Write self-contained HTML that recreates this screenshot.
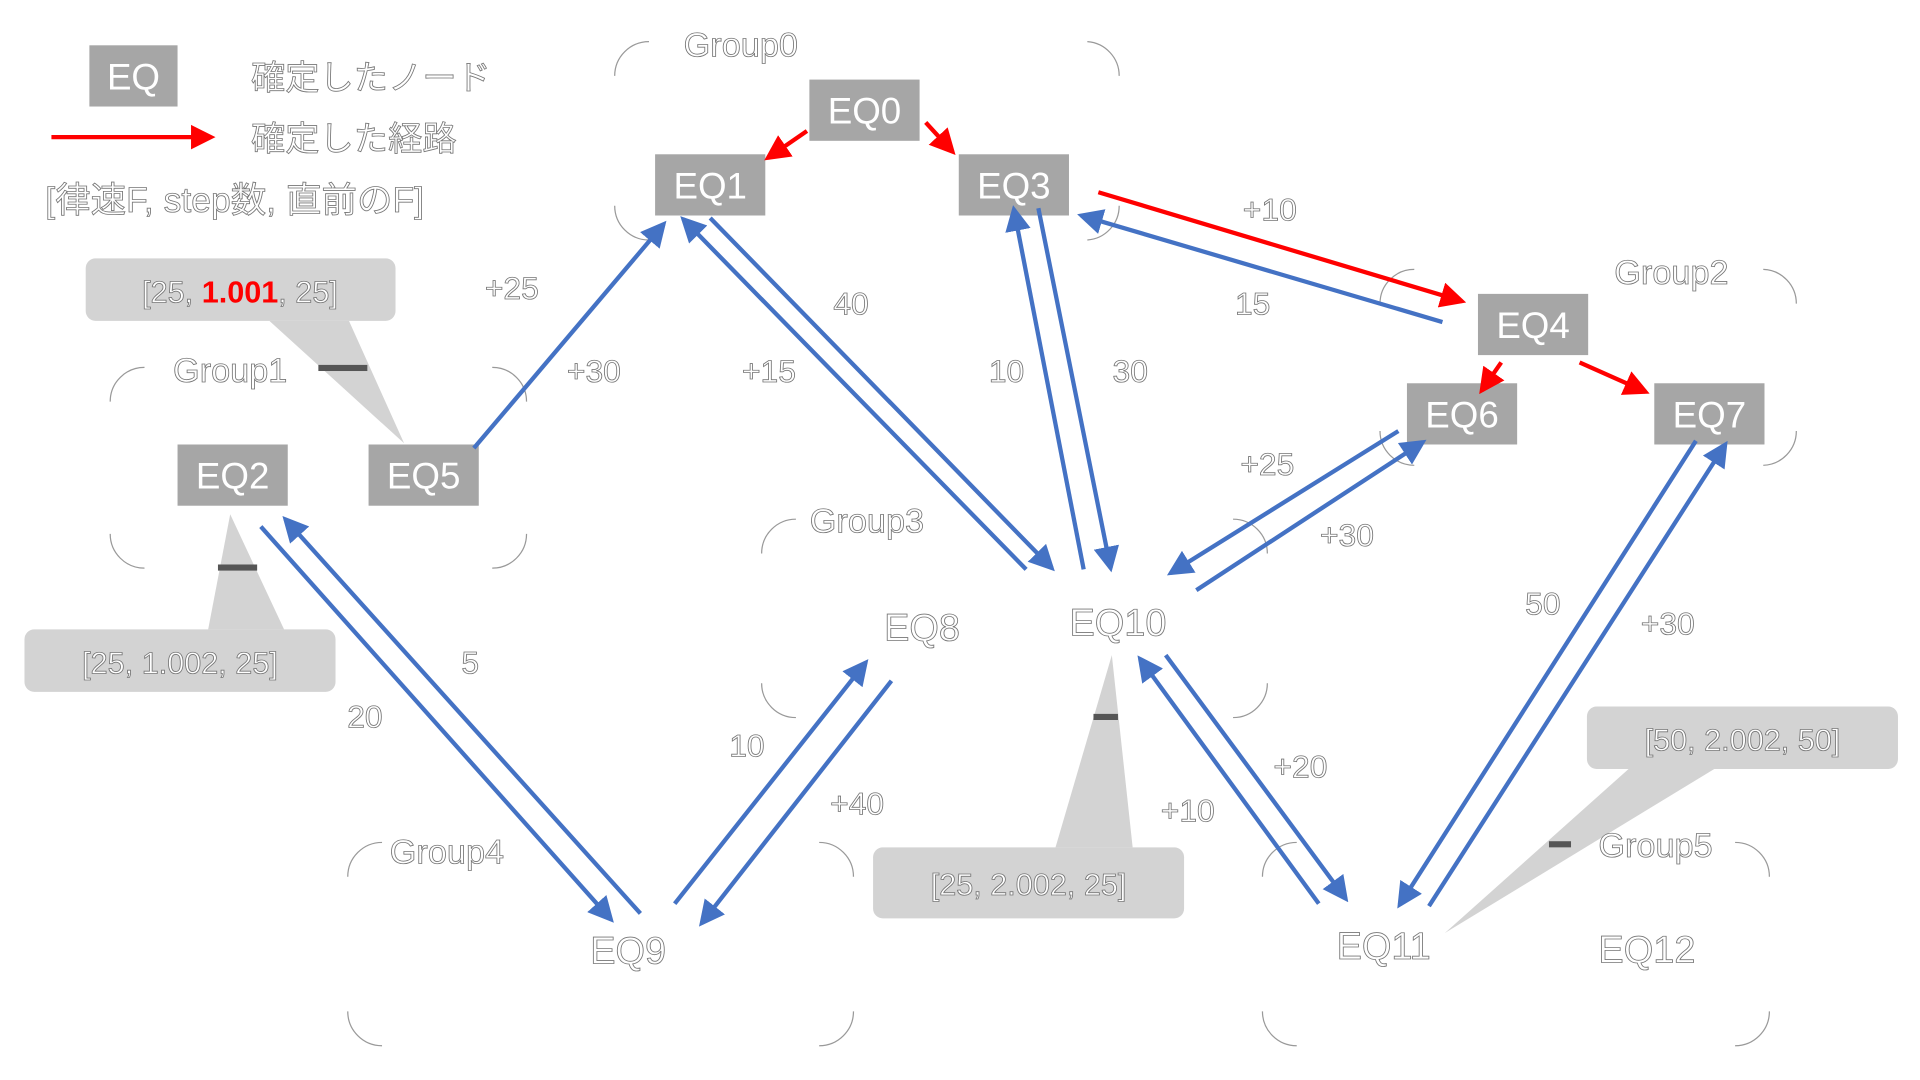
<!DOCTYPE html>
<html><head><meta charset="utf-8"><style>
html,body{margin:0;padding:0;background:#fff;}
svg{display:block;}
text{font-family:"Liberation Sans","Noto Sans CJK JP",sans-serif;}
.o{fill:#fff;stroke:#777;stroke-width:0.7;}
.n{fill:#fff;font-size:30px;}
.lbl{font-size:25px;}
.b{stroke:#4472c4;stroke-width:3.5;fill:none;}
.r{stroke:#ff0000;stroke-width:3.5;fill:none;}
.arc{fill:none;stroke:#999;stroke-width:1;}
</style></head><body>
<svg width="1920" height="1080" viewBox="0 0 1568 882" preserveAspectRatio="none" xmlns="http://www.w3.org/2000/svg">
<defs>
<marker id="mb" markerWidth="6" markerHeight="6" refX="5" refY="3" orient="auto" markerUnits="strokeWidth"><path d="M0,0 L6,3 L0,6 z" fill="#4472c4"/></marker>
<marker id="mr" markerWidth="6" markerHeight="6" refX="5" refY="3" orient="auto" markerUnits="strokeWidth"><path d="M0,0 L6,3 L0,6 z" fill="#ff0000"/></marker>
</defs>

<g fill="#d3d3d3">
<rect x="70" y="211" width="253" height="51" rx="8"/>
<polygon points="220,262 285,262 330,362"/>
<rect x="20" y="514" width="254" height="51" rx="8"/>
<polygon points="170,514 232,514 188,420"/>
<rect x="713" y="692" width="254" height="58" rx="8"/>
<polygon points="862,692 925,692 908,535"/>
<rect x="1296" y="577" width="254" height="51" rx="8"/>
<polygon points="1330,628 1400,628 1180,762"/>
</g>
<g fill="#555">
<rect x="260" y="298" width="40" height="5"/>
<rect x="178" y="461" width="32" height="5"/>
<rect x="893" y="583" width="20" height="5"/>
<rect x="1265" y="687" width="18" height="5"/>
</g>
<text x="196" y="247" text-anchor="middle" class="o lbl">[25, <tspan fill="#ff0000" stroke="none" font-weight="bold">1.001</tspan>, 25]</text>
<text x="147" y="550" text-anchor="middle" class="o lbl">[25, 1.002, 25]</text>
<text x="840" y="731" text-anchor="middle" class="o lbl">[25, 2.002, 25]</text>
<text x="1423" y="613" text-anchor="middle" class="o lbl">[50, 2.002, 50]</text>

<g class="arc">
<path d="M502,62 A28,28 0 0 1 530,34"/><path d="M888,34 A28,28 0 0 1 914,62"/>
<path d="M502,168 A28,28 0 0 0 530,196"/><path d="M888,196 A28,28 0 0 0 914,168"/>
<path d="M90,328 A28,28 0 0 1 118,300"/><path d="M402,300 A28,28 0 0 1 430,328"/>
<path d="M90,436 A28,28 0 0 0 118,464"/><path d="M402,464 A28,28 0 0 0 430,436"/>
<path d="M1127,248 A28,28 0 0 1 1155,220"/><path d="M1440,220 A28,28 0 0 1 1467,248"/>
<path d="M1127,352 A28,28 0 0 0 1155,380"/><path d="M1440,380 A28,28 0 0 0 1467,352"/>
<path d="M622,452 A28,28 0 0 1 650,424"/><path d="M1007,424 A28,28 0 0 1 1035,452"/>
<path d="M622,558 A28,28 0 0 0 650,586"/><path d="M1007,586 A28,28 0 0 0 1035,558"/>
<path d="M284,716 A28,28 0 0 1 312,688"/><path d="M669,688 A28,28 0 0 1 697,716"/>
<path d="M284,826 A28,28 0 0 0 312,854"/><path d="M669,854 A28,28 0 0 0 697,826"/>
<path d="M1031,716 A28,28 0 0 1 1059,688"/><path d="M1417,688 A28,28 0 0 1 1445,716"/>
<path d="M1031,826 A28,28 0 0 0 1059,854"/><path d="M1417,854 A28,28 0 0 0 1445,826"/>
</g>
<g class="o" font-size="28">
<text x="605" y="46" text-anchor="middle">Group0</text>
<text x="188" y="312" text-anchor="middle">Group1</text>
<text x="1365" y="232" text-anchor="middle">Group2</text>
<text x="708" y="435" text-anchor="middle">Group3</text>
<text x="365" y="705" text-anchor="middle">Group4</text>
<text x="1352" y="700" text-anchor="middle">Group5</text>
</g>

<rect x="73" y="37" width="72" height="50" fill="#a6a6a6"/>
<text x="109" y="73" text-anchor="middle" class="n">EQ</text>
<line x1="42" y1="112" x2="160" y2="112" class="r" stroke-width="4"/>
<polygon points="156,102 176,112 156,122" fill="#ff0000"/>
<text x="205" y="73" class="o" font-size="28">確定したノード</text>
<text x="205" y="123" class="o" font-size="28">確定した経路</text>
<text x="37" y="173" class="o" font-size="29">[律速F, step数, 直前のF]</text>

<g fill="#a6a6a6">
<rect x="661" y="65" width="90" height="50"/>
<rect x="535" y="126" width="90" height="50"/>
<rect x="783" y="126" width="90" height="50"/>
<rect x="1207" y="240" width="90" height="50"/>
<rect x="1149" y="313" width="90" height="50"/>
<rect x="1351" y="313" width="90" height="50"/>
<rect x="145" y="363" width="90" height="50"/>
<rect x="301" y="363" width="90" height="50"/>
</g>
<g class="n" text-anchor="middle">
<text x="706" y="101">EQ0</text>
<text x="580" y="162">EQ1</text>
<text x="828" y="162">EQ3</text>
<text x="1252" y="276">EQ4</text>
<text x="1194" y="349">EQ6</text>
<text x="1396" y="349">EQ7</text>
<text x="190" y="399">EQ2</text>
<text x="346" y="399">EQ5</text>
</g>
<g class="o" font-size="31" text-anchor="middle">
<text x="753" y="523">EQ8</text>
<text x="913" y="519">EQ10</text>
<text x="513" y="787">EQ9</text>
<text x="1130" y="783">EQ11</text>
<text x="1345" y="786">EQ12</text>
</g>

<line x1="659" y1="107" x2="627" y2="129" class="r" marker-end="url(#mr)"/>
<line x1="756" y1="100" x2="778" y2="124" class="r" marker-end="url(#mr)"/>
<line x1="897" y1="157" x2="1194" y2="246" class="r" marker-end="url(#mr)"/>
<line x1="1226" y1="296" x2="1210" y2="319" class="r" marker-end="url(#mr)"/>
<line x1="1290" y1="296" x2="1344" y2="320" class="r" marker-end="url(#mr)"/>

<g class="b">
<line x1="387" y1="366" x2="542" y2="183" marker-end="url(#mb)"/>
<line x1="580" y1="178" x2="859" y2="464" marker-end="url(#mb)"/>
<line x1="838" y1="465" x2="558" y2="179" marker-end="url(#mb)"/>
<line x1="885" y1="465" x2="828" y2="171" marker-end="url(#mb)"/>
<line x1="848" y1="170" x2="907" y2="464" marker-end="url(#mb)"/>
<line x1="1178" y1="263" x2="883" y2="176" marker-end="url(#mb)"/>
<line x1="1142" y1="352" x2="956" y2="468" marker-end="url(#mb)"/>
<line x1="977" y1="482" x2="1162" y2="361" marker-end="url(#mb)"/>
<line x1="1385" y1="360" x2="1143" y2="739" marker-end="url(#mb)"/>
<line x1="1167" y1="740" x2="1409" y2="363" marker-end="url(#mb)"/>
<line x1="1077" y1="738" x2="931" y2="538" marker-end="url(#mb)"/>
<line x1="952" y1="535" x2="1099" y2="734" marker-end="url(#mb)"/>
<line x1="551" y1="738" x2="707" y2="541" marker-end="url(#mb)"/>
<line x1="728" y1="556" x2="573" y2="754" marker-end="url(#mb)"/>
<line x1="213" y1="430" x2="499" y2="751" marker-end="url(#mb)"/>
<line x1="523" y1="746" x2="233" y2="424" marker-end="url(#mb)"/>
</g>

<g class="o" font-size="26" text-anchor="middle">
<text x="1037" y="180">+10</text>
<text x="1023" y="257">15</text>
<text x="418" y="244">+25</text>
<text x="485" y="312">+30</text>
<text x="695" y="257">40</text>
<text x="628" y="312">+15</text>
<text x="822" y="312">10</text>
<text x="923" y="312">30</text>
<text x="1035" y="388">+25</text>
<text x="1100" y="446">+30</text>
<text x="1260" y="502">50</text>
<text x="1362" y="518">+30</text>
<text x="384" y="550">5</text>
<text x="298" y="594">20</text>
<text x="610" y="618">10</text>
<text x="700" y="665">+40</text>
<text x="970" y="671">+10</text>
<text x="1062" y="635">+20</text>
</g>
</svg>
</body></html>
